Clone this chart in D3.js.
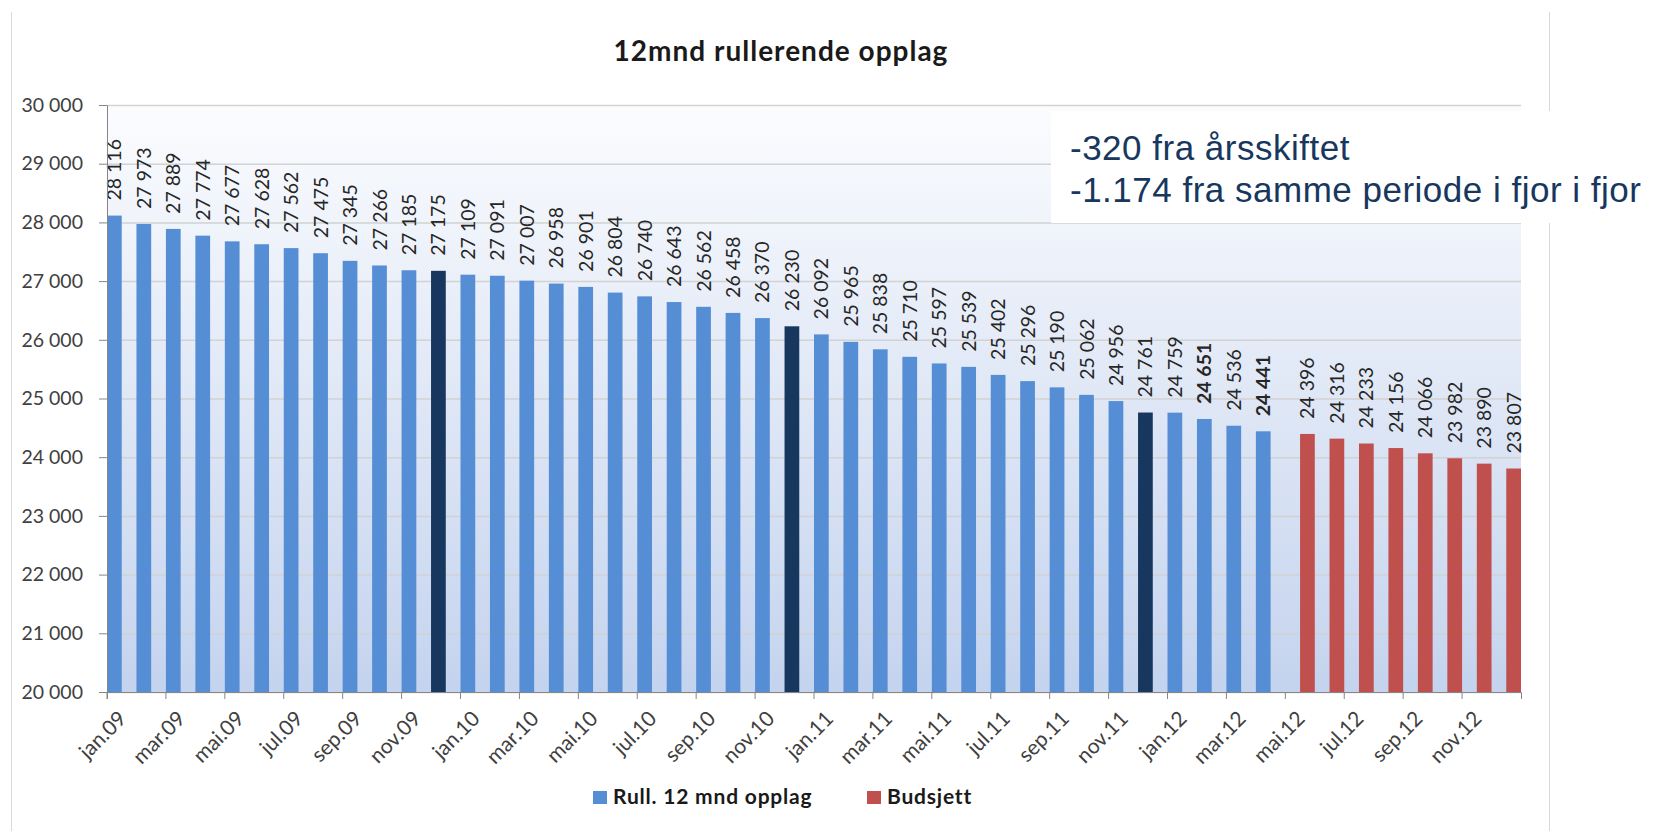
<!DOCTYPE html>
<html>
<head>
<meta charset="utf-8">
<script src="https://cdn.jsdelivr.net/npm/d3@7"></script>
<style>
  body { margin: 0; background: #fff; }
  svg { display: block; font-family: Lato, "Open Sans", sans-serif; }
  .axis text { fill: #404040; font-size: 19.5px; font-family: Lato, "Open Sans", sans-serif; }
  .axis.x text { font-size: 21px; }
  .axis path, .axis line { stroke: #868686; }
  .grid line { stroke: #d2d2d2; stroke-width: 1.5; }
  .grid path { display: none; }
  .val { font-size: 19.5px; fill: #262626; }
  .title { font-size: 28px; font-weight: 700; letter-spacing: 1px; fill: #1a1a1a; }
  .legend text { font-size: 21px; font-weight: 700; letter-spacing: 0.8px; fill: #1a1a1a; }
  .note { font-family: "Liberation Sans", Arial, sans-serif; font-size: 35px; letter-spacing: 0.5px; fill: #17375e; }
</style>
</head>
<body>
<div id="chart"></div>
<script>
const months = [
  "jan.09","feb.09","mar.09","apr.09","mai.09","jun.09","jul.09","aug.09","sep.09","okt.09","nov.09","des.09",
  "jan.10","feb.10","mar.10","apr.10","mai.10","jun.10","jul.10","aug.10","sep.10","okt.10","nov.10","des.10",
  "jan.11","feb.11","mar.11","apr.11","mai.11","jun.11","jul.11","aug.11","sep.11","okt.11","nov.11","des.11",
  "jan.12","feb.12","mar.12","apr.12","mai.12","jun.12","jul.12","aug.12","sep.12","okt.12","nov.12","des.12"
];
// Rull. 12 mnd opplag, jan.09 - apr.12
const opplag = [
  28116, 27973, 27889, 27774, 27677, 27628, 27562, 27475, 27345, 27266, 27185, 27175,
  27109, 27091, 27007, 26958, 26901, 26804, 26740, 26643, 26562, 26458, 26370, 26230,
  26092, 25965, 25838, 25710, 25597, 25539, 25402, 25296, 25190, 25062, 24956, 24761,
  24759, 24651, 24536, 24441
];
// Budsjett, mai.12 - des.12
const budsjett = [24396, 24316, 24233, 24156, 24066, 23982, 23890, 23807];

const xTickLabels = [
  "jan.09","mar.09","mai.09","jul.09","sep.09","nov.09",
  "jan.10","mar.10","mai.10","jul.10","sep.10","nov.10",
  "jan.11","mar.11","mai.11","jul.11","sep.11","nov.11",
  "jan.12","mar.12","mai.12","jul.12","sep.12","nov.12"
];
const yTicks = [20000, 21000, 22000, 23000, 24000, 25000, 26000, 27000, 28000, 29000, 30000];
const darkMonths = ["des.09", "des.10", "des.11"];
const boldMonths = ["feb.12", "apr.12"];
const seriesNames = ["Rull. 12 mnd opplag", "Budsjett"];
const noteLines = ["-320 fra årsskiftet", "-1.174 fra samme periode i fjor i fjor"];
const chartTitle = "12mnd rullerende opplag";

const W = 1662, H = 831;
const margin = { top: 105, right: 141, bottom: 139, left: 107 };
const width = W - margin.left - margin.right,
      height = H - margin.top - margin.bottom;

const nb = d3.formatLocale({ decimal: ",", thousands: " ", grouping: [3], currency: ["", " kr"] });
const fmt = nb.format(",d");

const rows = opplag.map((v, i) => ({ month: months[i], series: 0, value: v }))
  .concat(budsjett.map((v, i) => ({ month: months[opplag.length + i], series: 1, value: v })));

const colors = ["#558ed5", "#c0504d"];
const darkBlue = "#17375e";

const svg = d3.select('#chart').append('svg')
  .attr('width', W)
  .attr('height', H);

// chart area side borders
svg.append('line').attr('x1', 11.5).attr('x2', 11.5).attr('y1', 12).attr('y2', H)
  .attr('stroke', '#d9d9d9');
svg.append('line').attr('x1', 1549.5).attr('x2', 1549.5).attr('y1', 12).attr('y2', H)
  .attr('stroke', '#d9d9d9');

const defs = svg.append('defs');
const grad = defs.append('linearGradient').attr('id', 'plotbg')
  .attr('x1', 0).attr('y1', 0).attr('x2', 0).attr('y2', 1);
grad.append('stop').attr('offset', '0%').attr('stop-color', '#fbfcfe');
grad.append('stop').attr('offset', '100%').attr('stop-color', '#c4d3ee');

const x = d3.scaleBand().domain(months).range([0, width]).padding(0);
const xs = d3.scaleBand().domain([0, 1]).range([0, x.bandwidth()]).padding(0);
const y = d3.scaleLinear().domain([20000, 30000]).range([height, 0]);

const g = svg.append('g')
  .attr('transform', 'translate(' + margin.left + ',' + margin.top + ')');

g.append('rect')
  .attr('width', width)
  .attr('height', height)
  .attr('fill', 'url(#plotbg)');

g.append('g')
  .attr('class', 'grid')
  .call(d3.axisLeft(y).tickValues(yTicks).tickSize(-width).tickFormat(''));

// bars
g.selectAll('rect.bar').data(rows)
  .enter().append('rect')
    .attr('class', 'bar')
    .attr('x', d => x(d.month) + xs(d.series))
    .attr('width', xs.bandwidth())
    .attr('y', d => y(d.value))
    .attr('height', d => height - y(d.value))
    .attr('fill', d => d.series === 0 && darkMonths.includes(d.month) ? darkBlue : colors[d.series]);

// value labels
g.selectAll('text.val').data(rows)
  .enter().append('text')
    .attr('class', 'val')
    .attr('transform', d => 'translate(' + (x(d.month) + xs(d.series) + xs.bandwidth() / 2) + ',' + (y(d.value) - 15) + ') rotate(-90)')
    .attr('dy', '0.36em')
    .style('font-weight', d => boldMonths.includes(d.month) ? 700 : 400)
    .text(d => fmt(d.value));

// y axis
const yAxis = g.append('g')
  .attr('class', 'axis')
  .call(d3.axisLeft(y).tickValues(yTicks).tickSize(8).tickSizeOuter(0).tickPadding(16).tickFormat(fmt));

// x axis
const xAxis = g.append('g')
  .attr('class', 'axis x')
  .attr('transform', 'translate(0,' + height + ')')
  .call(d3.axisBottom(x).tickValues(xTickLabels).tickSize(7).tickSizeOuter(7));

xAxis.selectAll('.tick line')
  .attr('x1', -x.bandwidth() / 2)
  .attr('x2', -x.bandwidth() / 2);
xAxis.selectAll('.tick text')
  .attr('x', 0).attr('y', 0).attr('dy', 0)
  .attr('transform', 'translate(6,28) rotate(-45)')
  .style('text-anchor', 'end');

// title
svg.append('text')
  .attr('class', 'title')
  .attr('x', 781)
  .attr('y', 61)
  .attr('text-anchor', 'middle')
  .text(chartTitle);

// legend
const legend = svg.append('g').attr('class', 'legend')
  .selectAll('g').data(seriesNames)
  .enter().append('g')
    .attr('transform', (d, i) => 'translate(' + [593, 867][i] + ',791)');
legend.append('rect')
  .attr('width', 14)
  .attr('height', 13)
  .attr('fill', (d, i) => colors[i]);
legend.append('text')
  .attr('x', 20)
  .attr('y', 13)
  .text(d => d);

// note box
svg.append('rect')
  .attr('x', 1051)
  .attr('y', 111)
  .attr('width', W - 1051)
  .attr('height', 112)
  .attr('fill', '#fff');
svg.selectAll('text.note').data(noteLines)
  .enter().append('text')
    .attr('class', 'note')
    .attr('x', 1070)
    .attr('y', (d, i) => 160 + i * 41.7)
    .text(d => d);
</script>
</body>
</html>
